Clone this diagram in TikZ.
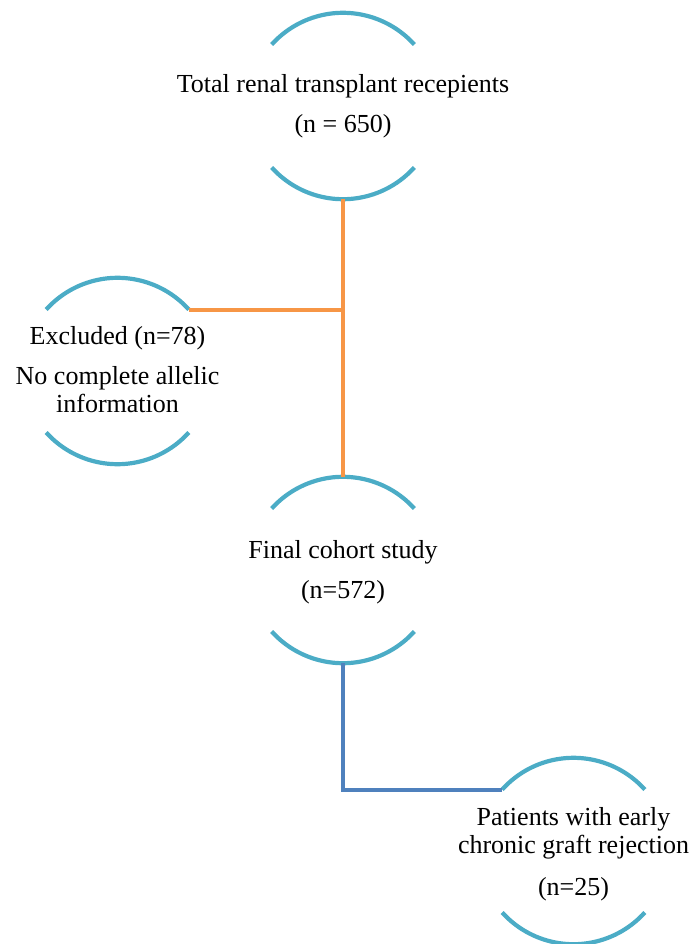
\documentclass[tikz,border=0pt]{standalone}
\usepackage{fontspec}
\setmainfont{Liberation Serif}
\usetikzlibrary{positioning,calc}
\definecolor{rimblue}{HTML}{4BACC6}
\definecolor{linkorange}{HTML}{F79646}
\definecolor{linkblue}{HTML}{4F81BD}

\begin{document}
\begin{tikzpicture}[x=1pt,y=1pt,
  stage/.style={circle,minimum size=186pt,inner sep=0pt},
  caption/.style={align=center,inner sep=0pt,font=\fontsize{26}{28.5}\selectfont},
  rim/.style={rimblue,line width=4.2pt},
  link/.style={line width=4pt}]
\useasboundingbox (0,0) rectangle (692,-944);
% stages (empty circles, the rims are drawn below)
\node[stage] (total) at (343,-106) {};
\node[stage] (excl) at (117.5,-371) {};
\node[stage] (final) at (343,-570) {};
\node[stage] (pat) at (573.5,-851) {};
% texts
\node[caption] (total-txt) at (343,-106) {Total renal transplant recepients\\[12pt](n = 650)};
\node[caption] (excl-txt) at (117.5,-370) {Excluded (n=78)\\[11pt]No complete allelic\\information};
\node[caption] (final-txt) at (343,-572) {Final cohort study\\[11pt](n=572)};
\node[caption] (pat-txt) at (573.5,-854) {Patients with early\\chronic graft rejection\\[13pt](n=25)};
% rims: upper and lower arc of each stage
\foreach \n in {total,excl,final,pat} {
  \draw[rim] ($(\n.north)+(42:96)-(0,96)$) arc[start angle=42,end angle=138,radius=96];
  \draw[rim] ($(\n.south)+(222:96)+(0,96)$) arc[start angle=222,end angle=318,radius=96];
}
% end points of the rims that the links reach
\coordinate (excl-end) at ($(excl.north)+(42:96)-(0,96)$);
\coordinate (pat-end) at ($(pat.north)+(138:96)-(0,96)$);
% links
\draw[link,linkorange] (total.south) -- (final.north);
\draw[link,linkorange] (excl-end) -- (excl-end -| total.south);
\draw[link,linkblue] (final.south) |- (pat-end);
\end{tikzpicture}
\end{document}
